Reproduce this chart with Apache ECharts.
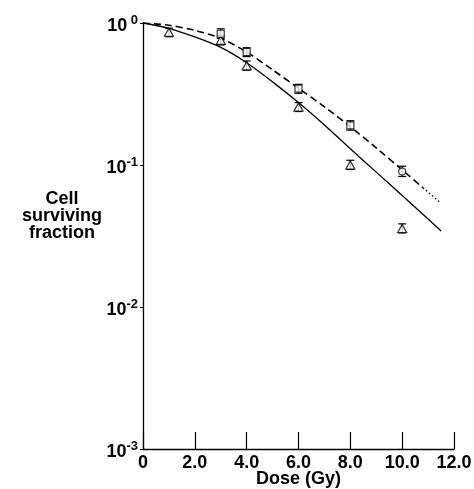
<!DOCTYPE html>
<html>
<head>
<meta charset="utf-8">
<script src="https://cdn.jsdelivr.net/npm/echarts@6/dist/echarts.min.js"></script>
<style>
    html, body { margin: 0; padding: 0; background: #fff; }
    #chart { width: 474px; height: 489px; }
</style>
</head>
<body>
<div id="chart"></div>
<script type="text/javascript">
    // 拟合曲线（实线）
    var solidDose = [0, 1, 2, 3, 4, 5, 6, 7, 8, 9, 10, 11, 11.5];
    var solidSF = [1, 0.918, 0.798, 0.673, 0.525, 0.385, 0.275, 0.191, 0.130, 0.0891, 0.0610, 0.0417, 0.0343];

    // 拟合曲线（虚线 + 点线延伸）
    var dashDose = [0, 1, 2, 3, 4, 5, 6, 7, 8, 9, 10, 10.8];
    var dashSF = [1, 0.964, 0.887, 0.780, 0.624, 0.468, 0.347, 0.257, 0.186, 0.132, 0.0923, 0.0692];
    var dotDose = [10.8, 11.5];
    var dotSF = [0.0692, 0.0537];

    // 三角形数据点
    var triDose = [1, 3, 4, 6, 8, 10];
    var triSF = [0.86, 0.755, 0.50, 0.256, 0.100, 0.0357];
    var triLow = [0.80, 0.70, 0.465, 0.238, 0.093, 0.0332];
    var triHigh = [0.92, 0.81, 0.54, 0.275, 0.108, 0.0385];

    // 方形/圆形数据点
    var sqDose = [3, 4, 6, 8, 10];
    var sqSF = [0.84, 0.625, 0.345, 0.19, 0.090];
    var sqLow = [0.78, 0.58, 0.32, 0.176, 0.083];
    var sqHigh = [0.91, 0.67, 0.37, 0.205, 0.098];
    var sqSymbols = ['rect', 'rect', 'rect', 'rect', 'circle'];

    // 刻度标签
    var xTickLabels = {0: '0', 2: '2.0', 4: '4.0', 6: '6.0', 8: '8.0', 10: '10.0', 12: '12.0'};
    var yTickSups = {'-3': '-3', '-2': '-2', '-1': '-1', '0': ' 0'};

    var FONT = '"Liberation Sans", Arial, sans-serif';

    function pairs(xs, ys) {
        return xs.map(function (x, i) { return [x, ys[i]]; });
    }

    function errRows(xs, lo, hi) {
        return xs.map(function (x, i) { return [x, lo[i], hi[i]]; });
    }

    // 误差线
    function renderErr(params, api) {
        var x = api.value(0);
        var p1 = api.coord([x, api.value(1)]);
        var p2 = api.coord([x, api.value(2)]);
        var w = 4;
        var st = {stroke: '#000', lineWidth: 1.2};
        return {
            type: 'group',
            children: [
                {type: 'line', shape: {x1: p1[0], y1: p1[1], x2: p2[0], y2: p2[1]}, style: st},
                {type: 'line', shape: {x1: p1[0] - w, y1: p1[1], x2: p1[0] + w, y2: p1[1]}, style: st},
                {type: 'line', shape: {x1: p2[0] - w, y1: p2[1], x2: p2[0] + w, y2: p2[1]}, style: st}
            ]
        };
    }

    var chart = echarts.init(document.getElementById('chart'));
    chart.setOption({
        animation: false,
        grid: {left: 143, right: 20, top: 23, bottom: 40, outerBoundsMode: 'none', containLabel: false},
        xAxis: {
            type: 'value',
            min: 0,
            max: 12,
            interval: 2,
            name: 'Dose (Gy)',
            nameLocation: 'middle',
            nameGap: 30,
            nameMoveOverlap: false,
            nameTextStyle: {fontFamily: FONT, fontWeight: 'bold', fontSize: 18, color: '#000', verticalAlign: 'middle'},
            axisLine: {lineStyle: {color: '#000', width: 1.3}},
            axisTick: {inside: true, length: 17, lineStyle: {color: '#000', width: 1.2}},
            splitLine: {show: false},
            axisLabel: {
                margin: 5,
                fontFamily: FONT,
                fontWeight: 'bold',
                fontSize: 18,
                color: '#000',
                formatter: function (v) { return xTickLabels[v]; }
            }
        },
        yAxis: {
            type: 'log',
            logBase: 10,
            min: 0.001,
            max: 1,
            axisLine: {show: true, lineStyle: {color: '#000', width: 1.3}},
            axisTick: {show: true, length: 3, lineStyle: {color: '#000', width: 1}},
            splitLine: {show: false},
            minorTick: {show: false},
            axisLabel: {
                margin: 5,
                color: '#000',
                formatter: function (v) {
                    var e = String(Math.round(Math.log10(v)));
                    return '{b|10}{s|' + yTickSups[e] + '}';
                },
                rich: {
                    b: {fontFamily: FONT, fontWeight: 'bold', fontSize: 18, color: '#000', padding: [6, 0, 0, 0]},
                    s: {fontFamily: FONT, fontWeight: 'bold', fontSize: 13, color: '#000', padding: [0, 0, 6, 0]}
                }
            }
        },
        graphic: [{
            type: 'text',
            style: {
                x: 62,
                y: 216,
                text: 'Cell\nsurviving\nfraction',
                fontFamily: FONT,
                fontWeight: 'bold',
                fontSize: 18,
                lineHeight: 17,
                fill: '#000',
                align: 'center',
                verticalAlign: 'middle'
            }
        }],
        series: [
            {
                type: 'line',
                data: pairs(solidDose, solidSF),
                smooth: 0.3,
                showSymbol: false,
                lineStyle: {color: '#000', width: 1.3}
            },
            {
                type: 'line',
                data: pairs(dashDose, dashSF),
                smooth: 0.3,
                showSymbol: false,
                lineStyle: {color: '#000', width: 1.6, type: [7, 4]}
            },
            {
                type: 'line',
                data: pairs(dotDose, dotSF),
                showSymbol: false,
                lineStyle: {color: '#000', width: 1.2, type: [1.5, 2.5]}
            },
            {
                type: 'custom',
                data: errRows(triDose, triLow, triHigh),
                renderItem: renderErr,
                z: 3
            },
            {
                type: 'custom',
                data: errRows(sqDose, sqLow, sqHigh),
                renderItem: renderErr,
                z: 3
            },
            {
                type: 'scatter',
                data: pairs(triDose, triSF),
                symbol: 'triangle',
                symbolSize: [9, 8],
                itemStyle: {color: '#fff', borderColor: '#000', borderWidth: 1.2},
                z: 4
            },
            {
                type: 'scatter',
                data: sqDose.map(function (x, i) {
                    return {value: [x, sqSF[i]], symbol: sqSymbols[i]};
                }),
                symbolSize: 7,
                itemStyle: {color: '#fff', borderColor: '#000', borderWidth: 1.2},
                z: 4
            }
        ]
    });
</script>
</body>
</html>
